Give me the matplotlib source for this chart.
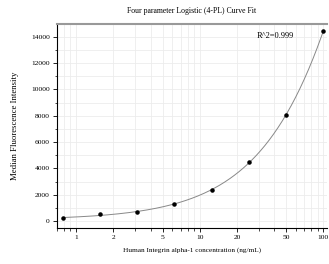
import numpy as np
import matplotlib
matplotlib.use("Agg")
import matplotlib.pyplot as plt
from matplotlib.ticker import FixedLocator, MultipleLocator, NullFormatter

conc = [0.78, 1.56, 3.125, 6.25, 12.5, 25, 50, 100]
mfi = [205, 530, 710, 1315, 2350, 4460, 8070, 14450]
xtick_vals = [1, 2, 5, 10, 20, 50, 100]
xtick_labels = ["1", "2", "5", "10", "20", "50", "100"]
title = "Four parameter Logistic (4-PL) Curve Fit"
xlabel = "Human Integrin alpha-1 concentration (ng/mL)"
ylabel = "Median Fluorescence Intensity"
r2_text = "R^2=0.999"

x = np.array(conc, float)
y = np.array(mfi, float)

# 4PL fit: y = D + (A-D)/(1+(x/C)^B); grid over B, C, linear solve for A, D
best = None
for B in np.linspace(0.5, 3.0, 126):
    for logC in np.linspace(0, 4, 201):
        C = 10 ** logC
        g = 1.0 / (1.0 + (x / C) ** B)
        M = np.column_stack([g, 1 - g])
        coef, *_ = np.linalg.lstsq(M, y, rcond=None)
        r = np.sum((M @ coef - y) ** 2)
        if best is None or r < best[0]:
            best = (r, B, C, coef[0], coef[1])
_, B, C, A, D = best
xs = np.logspace(np.log10(0.78), np.log10(100), 300)
ys = D + (A - D) / (1 + (xs / C) ** B)

plt.rcParams["font.family"] = ["Liberation Serif", "DejaVu Serif"]
fig = plt.figure(figsize=(3.29, 2.64), dpi=100)
ax = fig.add_axes([0.173, 0.136, 0.821, 0.773])

ax.plot(xs, ys, color="#888888", lw=0.7, zorder=2)
ax.scatter(x, y, s=5, color="black", zorder=3)

ax.set_xscale("log")
ax.set_xlim(0.70, 107)
ax.set_ylim(-530, 14960)
ax.xaxis.set_major_locator(FixedLocator(xtick_vals))
ax.set_xticklabels(xtick_labels)
ax.xaxis.set_minor_formatter(NullFormatter())
ax.yaxis.set_major_locator(MultipleLocator(2000))
ax.yaxis.set_minor_locator(MultipleLocator(1000))

ax.grid(True, which="both", color="#ececec", lw=0.6, zorder=0)
ax.set_axisbelow(True)
ax.tick_params(axis="both", which="major", labelsize=5.4, length=3, width=0.6, pad=2)
ax.tick_params(axis="both", which="minor", length=1.8, width=0.5)

ax.spines["right"].set_visible(False)
ax.spines["top"].set_color("#999999")
ax.spines["top"].set_linewidth(1.5)
ax.spines["left"].set_linewidth(0.8)
ax.spines["bottom"].set_linewidth(0.8)

ax.set_title(title, fontsize=5.6, pad=8)
ax.set_xlabel(xlabel, fontsize=5.2, labelpad=5)
ax.set_ylabel(ylabel, fontsize=6.3, labelpad=9)
ax.text(0.81, 0.94, r2_text, transform=ax.transAxes, fontsize=6.0, ha="center", va="center")

fig.savefig("out.png", dpi=100)
